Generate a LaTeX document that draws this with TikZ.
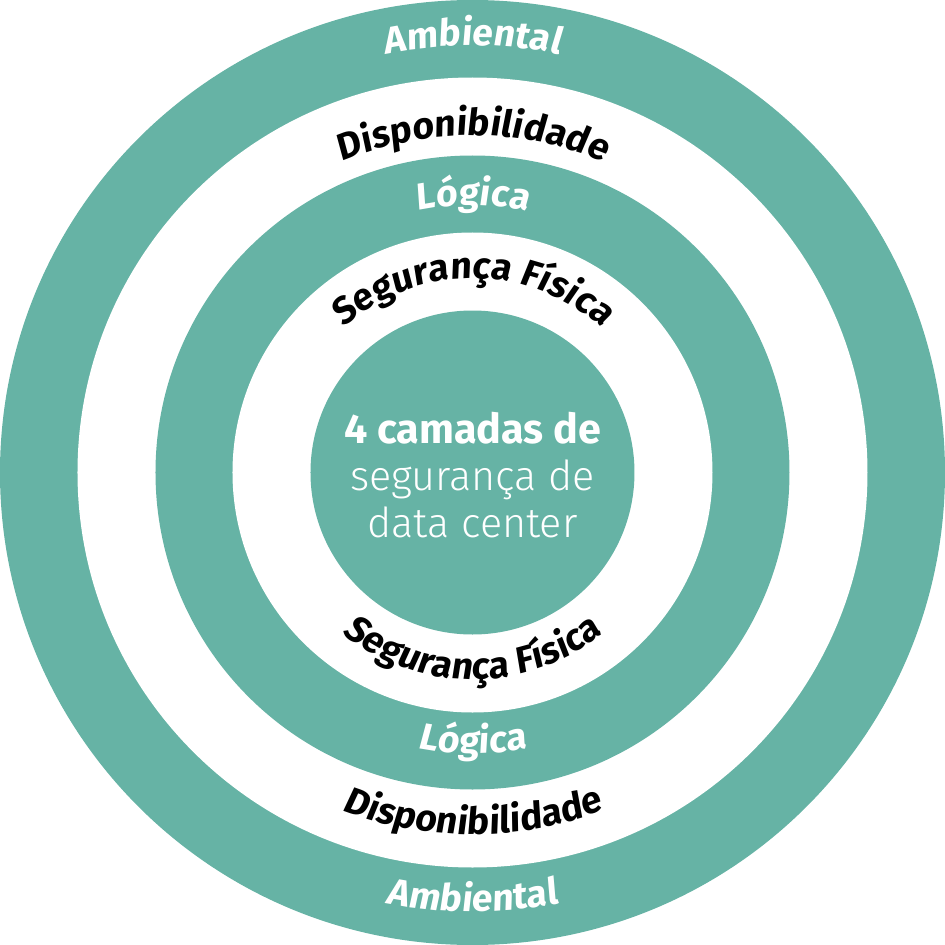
\documentclass[tikz,border=0pt]{standalone}
\usepackage{fontspec}
\usepackage{tikz}
\usetikzlibrary{decorations.text}
\setmainfont{Fira Sans}
\newfontfamily\ringfont{Fira Sans}[FakeSlant=0.1]
\newfontfamily\lightfont{Fira Sans Light}
\definecolor{dcTeal}{RGB}{102,179,165}
\newcommand{\onteal}{\ringfont\bfseries\fontsize{21.2}{25}\selectfont\color{white}}
\newcommand{\onwhite}{\ringfont\bfseries\fontsize{21.2}{25}\selectfont\color{black}}
\tikzset{
  ring/.style={fill=#1, draw=none},
  toplabel/.style={decorate, decoration={text along path, text align=center, text={#1}}},
  botlabel/.style={decorate, decoration={text along path, text align=center, text={#1}}}
}
\begin{document}
\begin{tikzpicture}
\useasboundingbox (-9.45,-9.45) rectangle (9.45,9.45);
\coordinate (c) at (0,0);
% rings, outside in
\fill[ring=dcTeal] (c) circle[radius=9.45];
\fill[ring=white] (c) circle[radius=7.9];
\fill[ring=dcTeal] (c) circle[radius=6.34];
\fill[ring=white] (c) circle[radius=4.8];
\fill[ring=dcTeal] (c) circle[radius=3.24];
% labels on the upper arcs
\path[toplabel={|\onteal|Ambiental}] (c) ++(180:8.54) arc[start angle=180, end angle=0, radius=8.54];
\path[toplabel={|\onwhite|Disponibilidade}] (c) ++(180:6.74) arc[start angle=180, end angle=0, radius=6.74];
\path[toplabel={|\onteal|Lógica}] (c) ++(180:5.34) arc[start angle=180, end angle=0, radius=5.34];
\path[toplabel={|\onwhite|Segurança Física}] (c) ++(180:3.88) arc[start angle=180, end angle=0, radius=3.88];
% labels on the lower arcs
\path[botlabel={|\onwhite|Segurança Física}] (c) ++(180:4.14) arc[start angle=180, end angle=360, radius=4.14];
\path[botlabel={|\onteal|Lógica}] (c) ++(180:5.62) arc[start angle=180, end angle=360, radius=5.62];
\path[botlabel={|\onwhite|Disponibilidade}] (c) ++(180:7.24) arc[start angle=180, end angle=360, radius=7.24];
\path[botlabel={|\onteal|Ambiental}] (c) ++(180:8.78) arc[start angle=180, end angle=360, radius=8.78];
% centre
\node[text=white, align=center, font=\fontsize{23.5}{26.6}\selectfont] (core) at (0,-0.05)
  {\textbf{4 camadas de}\\{\lightfont segurança de}\\{\lightfont data center}};
\end{tikzpicture}
\end{document}
